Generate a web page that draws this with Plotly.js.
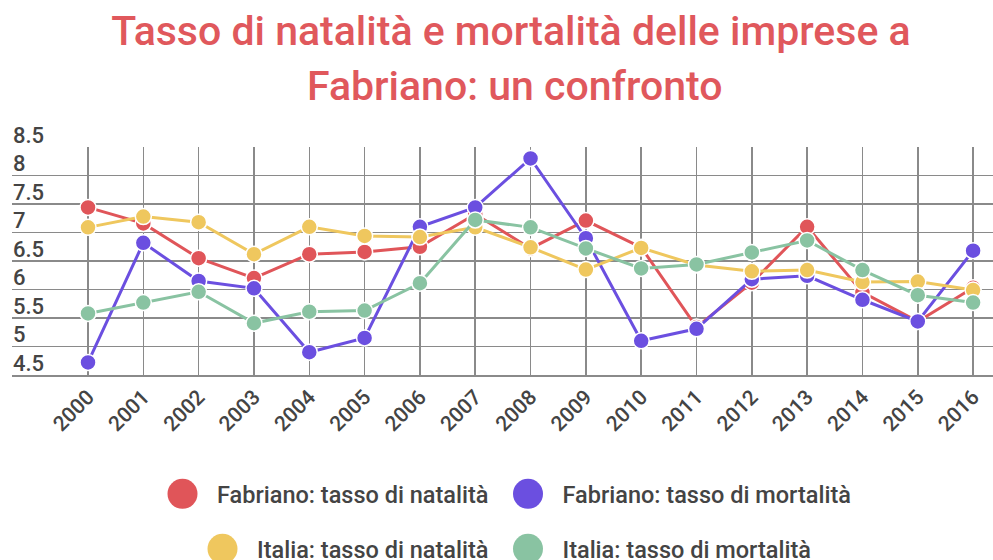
<!DOCTYPE html>
<html><head><meta charset="utf-8">
<script src="https://cdn.plot.ly/plotly-3.0.1.min.js"></script>
<style>html,body{margin:0;padding:0;background:#fff}#chart{width:993px;height:560px}</style>
</head><body><div id="chart"></div>
<script>
const years = [2000,2001,2002,2003,2004,2005,2006,2007,2008,2009,2010,2011,2012,2013,2014,2015,2016];
const yearLabels = ["2000","2001","2002","2003","2004","2005","2006","2007","2008","2009","2010","2011","2012","2013","2014","2015","2016"];
const seriesNames = ["Fabriano: tasso di natalità","Fabriano: tasso di mortalità","Italia: tasso di natalità","Italia: tasso di mortalità"];
const fabNat  = [7.44,7.16,6.55,6.20,6.62,6.66,6.75,7.32,6.72,7.21,6.74,5.34,6.12,7.10,5.95,5.44,6.03];
const fabMort = [4.72,6.82,6.15,6.02,4.90,5.15,7.10,7.44,8.30,6.90,5.10,5.31,6.18,6.24,5.82,5.44,6.68];
const itaNat  = [7.09,7.28,7.18,6.62,7.10,6.94,6.92,7.09,6.74,6.35,6.73,6.43,6.32,6.34,6.13,6.14,5.99];
const itaMort = [5.58,5.77,5.96,5.41,5.61,5.63,6.11,7.22,7.09,6.72,6.37,6.44,6.65,6.86,6.34,5.90,5.77];
const yTicks = [4.5,5,5.5,6,6.5,7,7.5,8,8.5];
const colors = ["#e05559","#6b4fe0","#efc75e","#89c3a2"];

const allSeries = [fabNat, fabMort, itaNat, itaMort];
const traces = allSeries.map((vals, i) => ({
  type: 'scatter', mode: 'lines+markers', x: years, y: vals, name: seriesNames[i],
  showlegend: false, hoverinfo: 'x+y',
  line: {color: colors[i], width: 3},
  marker: {color: colors[i], size: 16, line: {color: '#ffffff', width: 1.5}}
}));
const legendTraces = seriesNames.map((n, i) => ({
  type: 'scatter', mode: 'markers', x: [null], y: [null], yaxis: 'y2', name: n,
  legend: i < 2 ? 'legend' : 'legend2', showlegend: true,
  marker: {color: colors[i], size: 16}
}));

const gridColor = '#8a8a8a';
const FONT = 'Roboto, sans-serif';
const layout = {
  width: 993, height: 560,
  paper_bgcolor: '#ffffff', plot_bgcolor: '#ffffff',
  margin: {l: 12, r: 0, t: 147, b: 185},
  font: {family: FONT, color: '#444'},
  title: {text: 'Tasso di natalità e mortalità delle imprese a',
    font: {family: FONT, size: 41, weight: 500, color: '#e0585c'},
    x: 511/993, xref: 'container', xanchor: 'center', y: 1 - 31/560, yref: 'container', yanchor: 'middle'},
  annotations: [{text: 'Fabriano: un confronto', xref: 'paper', yref: 'paper',
    x: (514-12)/981, y: (375-86)/228, xanchor: 'center', yanchor: 'middle', showarrow: false,
    font: {family: FONT, size: 41, weight: 500, color: '#e0585c'}}],
  xaxis: {range: [1998.626, 2016.36], tickvals: years, ticktext: yearLabels, tickangle: -45,
    showgrid: true, gridcolor: gridColor, gridwidth: 1.5, zeroline: false,
    showline: true, linecolor: gridColor, linewidth: 1.5, ticks: '',
    tickfont: {family: FONT, size: 21, weight: 500, color: '#444'}, fixedrange: true},
  yaxis: {range: [4.5, 8.5], tickvals: yTicks, showticklabels: false,
    showgrid: true, gridcolor: gridColor, gridwidth: 1.5, zeroline: false, showline: false, ticks: '', fixedrange: true},
  yaxis2: {range: [4.5, 8.5], tickvals: yTicks, overlaying: 'y', side: 'right', anchor: 'free', position: 0,
    showgrid: false, zeroline: false, showline: false, ticks: '', ticklabelshift: -12, ticklabelstandoff: 0,
    tickfont: {family: FONT, size: 22, weight: 500, color: '#444'}, fixedrange: true},
  legend: {orientation: 'h', xref: 'container', yref: 'container', x: 502/993, xanchor: 'center',
    y: 1 - 494/560, yanchor: 'middle', itemwidth: 59, font: {family: FONT, size: 23.5, weight: 500, color: '#444'}},
  legend2: {orientation: 'h', xref: 'container', yref: 'container', x: 502/993, xanchor: 'center',
    y: 1 - 549/560, yanchor: 'middle', itemwidth: 59, font: {family: FONT, size: 23.5, weight: 500, color: '#444'}},
  hovermode: 'closest'
};

Plotly.newPlot('chart', traces.concat(legendTraces), layout, {displayModeBar: false, staticPlot: true}).then(() => {
  document.querySelectorAll('.legendpoints path.scatterpts').forEach(p => {
    const t = p.getAttribute('transform') || '';
    p.setAttribute('transform', t + ' scale(1.875)');
  });
});
</script>
</body></html>
